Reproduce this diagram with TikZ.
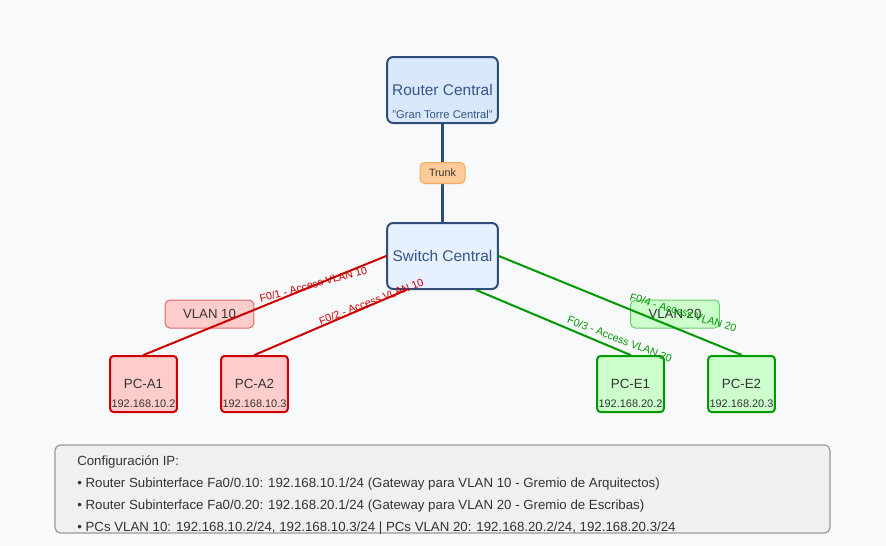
\documentclass[tikz,border=0pt]{standalone}
\usepackage{fontspec}
\setmainfont{Liberation Sans}
\definecolor{bgcol}{HTML}{F8F9FA}
\definecolor{navy}{HTML}{2E4D7B}
\definecolor{navytxt}{HTML}{34568B}
\definecolor{routerfill}{HTML}{DAE8FC}
\definecolor{switchfill}{HTML}{E6F0FF}
\definecolor{trunkfill}{HTML}{FFCC99}
\definecolor{trunkdraw}{HTML}{F5A860}
\definecolor{redline}{HTML}{CC0000}
\definecolor{redfill}{HTML}{FFCCCC}
\definecolor{vlanred}{HTML}{E06666}
\definecolor{greenline}{HTML}{009900}
\definecolor{greenfill}{HTML}{CCFFCC}
\definecolor{vlangreen}{HTML}{66CC66}
\definecolor{infofill}{HTML}{F0F0F0}
\definecolor{infodraw}{HTML}{999999}
\definecolor{txt}{HTML}{333333}
\begin{document}
\begin{tikzpicture}[font=\fontsize{10}{12}\selectfont, line join=round, line cap=round, x=0.75pt, y=-0.75pt,
  dev/.style={draw=navy, line width=1.5pt, rounded corners=4.5pt, minimum width=83pt, minimum height=49.5pt, text=navytxt, font=\fontsize{11.6}{14}\selectfont},
  sub/.style={above=3.5pt, inner sep=0pt, font=\fontsize{8.4}{10}\selectfont, text=navytxt},
  trunkbox/.style={fill=trunkfill, draw=trunkdraw, line width=0.75pt, rounded corners=3.5pt, minimum width=33.75pt, minimum height=15.75pt, inner sep=0pt, font=\fontsize{8}{9}\selectfont, text=txt},
  vlanbox/.style={fill=#1fill, draw=vlan#1, line width=0.75pt, rounded corners=3.5pt, minimum width=66.5pt, minimum height=21pt, font=\fontsize{9.9}{12}\selectfont, text=txt},
  pcbox/.style={fill=#1fill, draw=#1line, line width=1.5pt, rounded corners=2.5pt, minimum width=50pt, minimum height=42pt, text=txt},
  ip/.style={above=3.5pt, inner sep=0pt, font=\fontsize{8.2}{10}\selectfont, text=txt},
  port/.style={font=\fontsize{8}{10}\selectfont, text=#1line, inner sep=0pt},
  link/.style={draw=#1line, line width=1.5pt},
  infotxt/.style={anchor=west, inner sep=0pt, font=\fontsize{9.95}{12}\selectfont, text=txt}]
\useasboundingbox (0,0) rectangle (886,546);
\fill[bgcol] (0,0) rectangle (886,546);
% info box
\node[fill=infofill, draw=infodraw, line width=0.9pt, rounded corners=4pt, minimum width=581.25pt, minimum height=66pt] (info) at (442.5,489) {};
\foreach \t [count=\i] in {{Configuración IP:},
  {• Router Subinterface Fa0/0.10: 192.168.10.1/24 (Gateway para VLAN 10 - Gremio de Arquitectos)},
  {• Router Subinterface Fa0/0.20: 192.168.20.1/24 (Gateway para VLAN 20 - Gremio de Escribas)},
  {• PCs VLAN 10: 192.168.10.2/24, 192.168.10.3/24 | PCs VLAN 20: 192.168.20.2/24, 192.168.20.3/24}}
  \node[infotxt] (info\i) at (77,440+22*\i) {\t};
% devices
\node[dev, fill=routerfill, label={[sub]south:"Gran Torre Central"}] (router) at (442.5,90) {Router Central};
\node[dev, fill=switchfill] (switch) at (442.5,256) {Switch Central};
\node[vlanbox=red] (vlan10) at (209.5,314) {VLAN 10};
\node[vlanbox=green] (vlan20) at (675,314) {VLAN 20};
\foreach \n/\x/\c/\t/\ip in {pca1/143.5/red/PC-A1/192.168.10.2, pca2/254.5/red/PC-A2/192.168.10.3,
  pce1/630.5/green/PC-E1/192.168.20.2, pce2/741.5/green/PC-E2/192.168.20.3}
  \node[pcbox=\c, label={[ip]south:\ip}] (\n) at (\x,384) {\t};
% links
\draw[draw=navy, line width=2.25pt] (router) -- node[trunkbox] (trunk) {Trunk} (switch);
\draw[link=red] (switch.west) -- node[port=red, pos=0.3, yshift=1pt, rotate=15] (p1) {F0/1 - Access VLAN 10} (pca1.north);
\draw[link=red] ([xshift=15pt]switch.south west) -- node[port=red, pos=0.23, yshift=2.5pt, rotate=21] (p2) {F0/2 - Access VLAN 10} (pca2.north);
\draw[link=green] ([xshift=-17pt]switch.south east) -- node[port=green, pos=0.93, yshift=8.5pt, rotate=-21] (p3) {F0/3 - Access VLAN 20} (pce1.north);
\draw[link=green] (switch.east) -- node[port=green, pos=0.76, yshift=14pt, rotate=-17] (p4) {F0/4 - Access VLAN 20} (pce2.north);
\end{tikzpicture}
\end{document}
